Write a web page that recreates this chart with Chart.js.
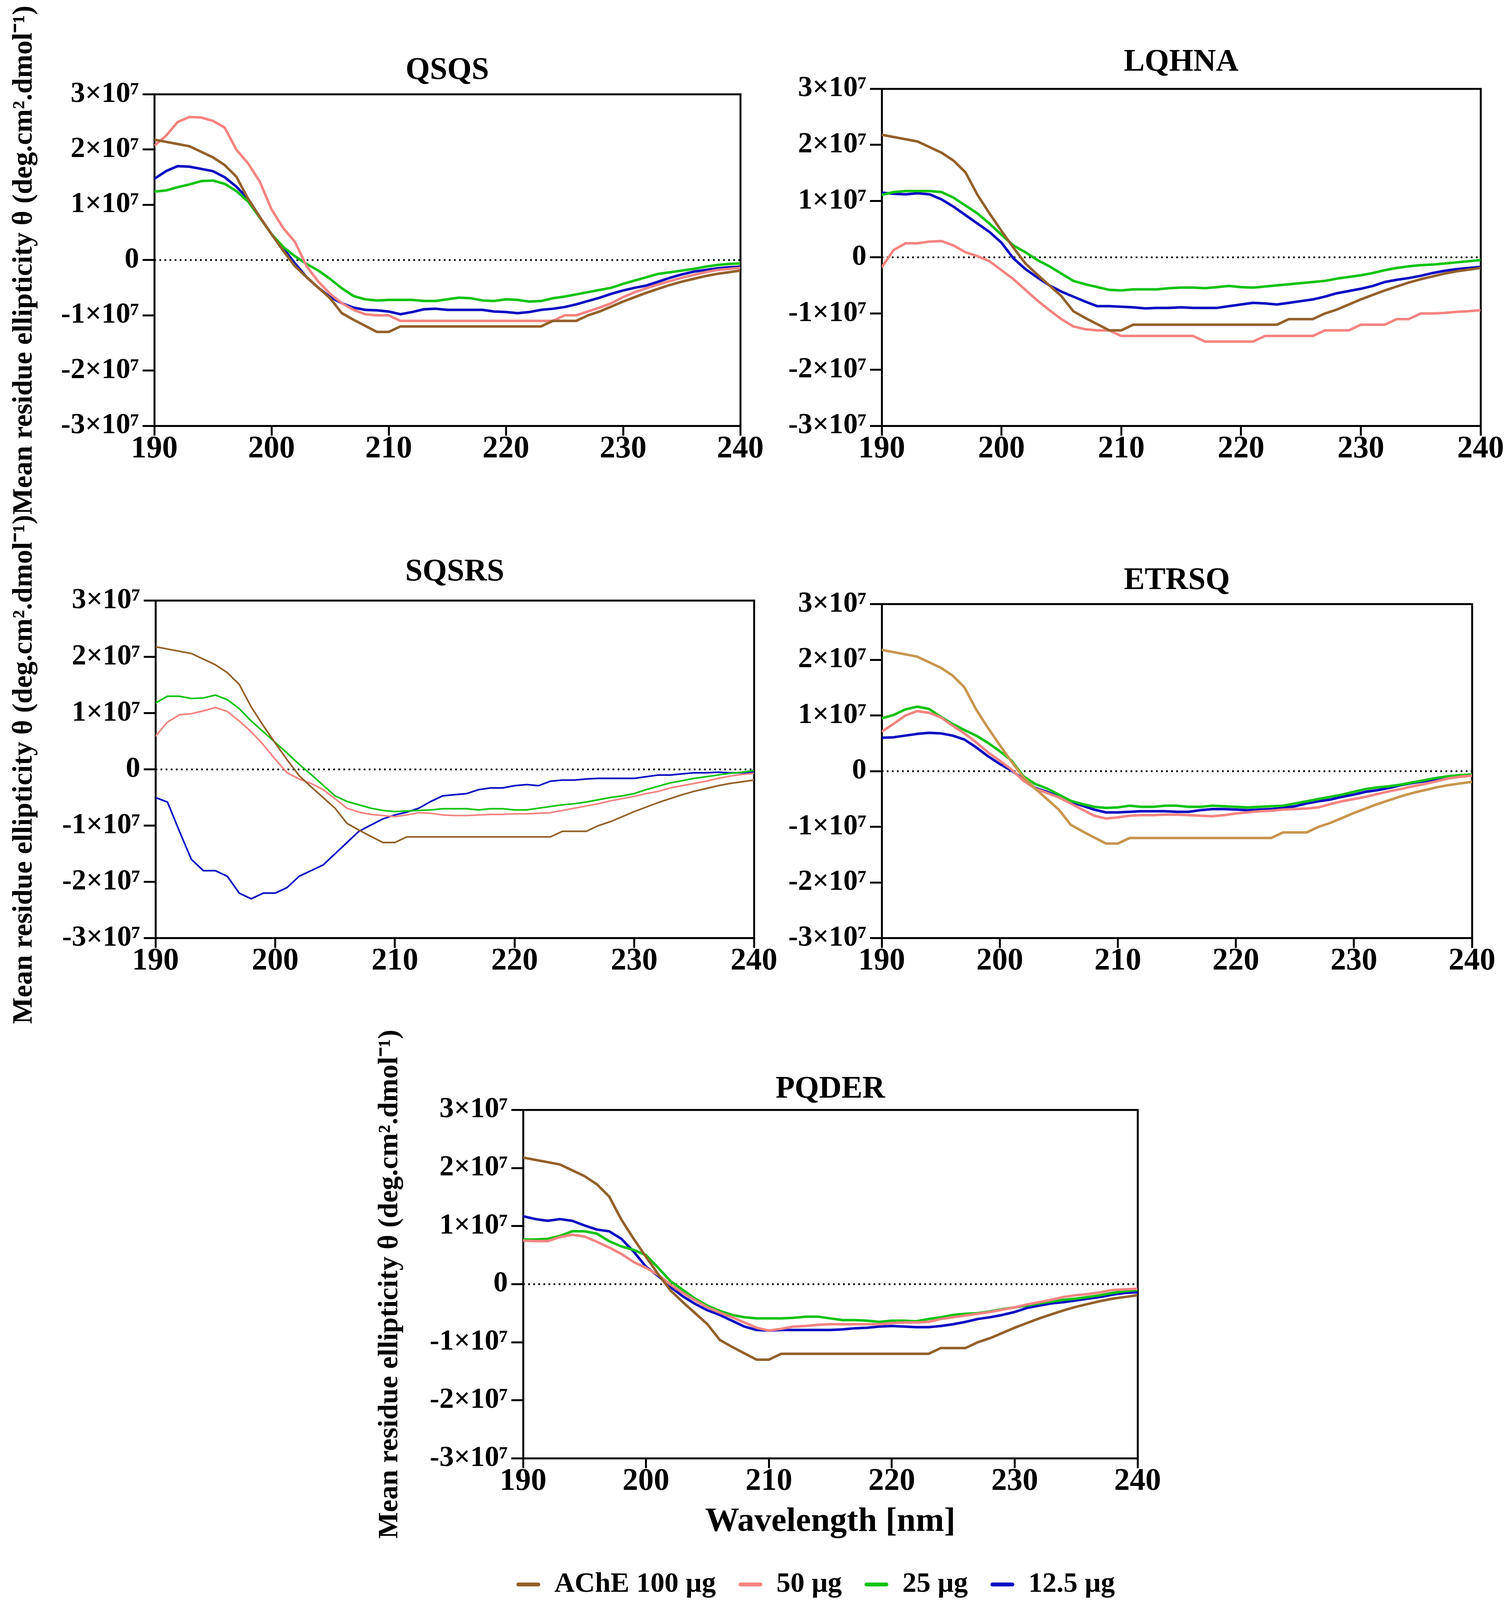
<!DOCTYPE html>
<html>
<head>
<meta charset="utf-8">
<script src="https://cdn.jsdelivr.net/npm/chart.js@4.4.1/dist/chart.umd.min.js"></script>
<style>
html,body{margin:0;padding:0;background:#fff;overflow:hidden;}
#page{position:relative;width:3850px;height:4835px;overflow:hidden;background:#fff;}
#page canvas{position:absolute;}
</style>
</head>
<body>
<div id="page"></div>
<script>
// ---------------- DATA (values in units of 10^7 deg.cm².dmol⁻¹) ----------------
const wavelengths = [190,191,192,193,194,195,196,197,198,199,200,201,202,203,204,205,206,207,208,209,210,211,212,213,214,215,216,217,218,219,220,221,222,223,224,225,226,227,228,229,230,231,232,233,234,235,236,237,238,239,240];
const xTickValues = [190,200,210,220,230,240];
const yTickValues = [-3,-2,-1,0,1,2,3];
const seriesLabels = ['AChE 100 µg','50 µg','25 µg','12.5 µg'];
const panelTitles = ['QSQS','LQHNA','SQSRS','ETRSQ','PQDER'];
const yAxisTitle = 'Mean residue ellipticity θ (deg.cm².dmol⁻¹)';
const xAxisTitle = 'Wavelength [nm]';
const zeroRef = [0, 0];

const ache100 = [2.18,2.14,2.10,2.06,1.96,1.86,1.72,1.51,1.11,0.78, 0.47,0.17,-0.11,-0.31,-0.50,-0.69,-0.96,-1.08,-1.19,-1.30, -1.30,-1.20,-1.20,-1.20,-1.20,-1.20,-1.20,-1.20,-1.20,-1.20, -1.20,-1.20,-1.20,-1.20,-1.10,-1.10,-1.10,-1.00,-0.93,-0.84, -0.75,-0.67,-0.59,-0.52,-0.45,-0.39,-0.34,-0.29,-0.25,-0.22,-0.19];

const qsqs50  = [2.07,2.25,2.50,2.59,2.58,2.52,2.40,2.00,1.75,1.42, 0.92,0.58,0.33,-0.11,-0.39,-0.61,-0.78,-0.90,-0.98,-1.00, -1.00,-1.10,-1.10,-1.10,-1.10,-1.10,-1.10,-1.10,-1.10,-1.10, -1.10,-1.10,-1.10,-1.10,-1.10,-1.00,-1.00,-0.93,-0.86,-0.78, -0.67,-0.58,-0.51,-0.44,-0.38,-0.32,-0.27,-0.22,-0.18,-0.16,-0.14];
const qsqs25  = [1.24,1.26,1.32,1.37,1.43,1.44,1.38,1.25,1.06,0.77, 0.47,0.24,0.07,-0.07,-0.19,-0.34,-0.51,-0.65,-0.71,-0.73, -0.72,-0.72,-0.72,-0.74,-0.74,-0.71,-0.68,-0.69,-0.73,-0.74, -0.71,-0.72,-0.75,-0.74,-0.69,-0.66,-0.62,-0.58,-0.54,-0.50, -0.43,-0.37,-0.31,-0.25,-0.22,-0.19,-0.16,-0.12,-0.09,-0.07,-0.06];
const qsqs125 = [1.47,1.61,1.70,1.69,1.65,1.61,1.50,1.33,1.11,0.78, 0.47,0.22,-0.06,-0.31,-0.50,-0.67,-0.78,-0.86,-0.90,-0.91, -0.93,-0.98,-0.94,-0.89,-0.88,-0.90,-0.90,-0.90,-0.90,-0.93, -0.94,-0.96,-0.94,-0.90,-0.88,-0.85,-0.80,-0.74,-0.68,-0.61, -0.55,-0.50,-0.46,-0.39,-0.32,-0.26,-0.21,-0.18,-0.15,-0.13,-0.12];

const lqhna50  = [-0.18,0.13,0.25,0.25,0.28,0.29,0.21,0.09,0.02,-0.07, -0.23,-0.39,-0.58,-0.77,-0.94,-1.10,-1.23,-1.28,-1.30,-1.30, -1.40,-1.40,-1.40,-1.40,-1.40,-1.40,-1.40,-1.50,-1.50,-1.50, -1.50,-1.50,-1.40,-1.40,-1.40,-1.40,-1.40,-1.30,-1.30,-1.30, -1.20,-1.20,-1.20,-1.10,-1.10,-1.00,-1.00,-0.99,-0.97,-0.96,-0.94];
const lqhna25  = [1.11,1.16,1.18,1.18,1.18,1.16,1.06,0.92,0.78,0.60, 0.40,0.21,0.09,-0.05,-0.16,-0.29,-0.42,-0.48,-0.53,-0.58, -0.59,-0.57,-0.57,-0.57,-0.55,-0.54,-0.54,-0.55,-0.53,-0.51, -0.53,-0.54,-0.52,-0.50,-0.48,-0.46,-0.44,-0.42,-0.38,-0.35, -0.32,-0.28,-0.23,-0.19,-0.16,-0.14,-0.13,-0.11,-0.09,-0.07,-0.05];
const lqhna125 = [1.15,1.13,1.12,1.14,1.12,1.03,0.90,0.75,0.60,0.45, 0.26,-0.02,-0.21,-0.36,-0.50,-0.61,-0.70,-0.79,-0.87,-0.87, -0.88,-0.89,-0.91,-0.90,-0.90,-0.89,-0.90,-0.90,-0.90,-0.87, -0.84,-0.81,-0.82,-0.84,-0.81,-0.78,-0.75,-0.70,-0.64,-0.60, -0.56,-0.51,-0.44,-0.40,-0.37,-0.33,-0.28,-0.24,-0.21,-0.19,-0.17];

const sqsrs50  = [0.59,0.84,0.97,0.99,1.04,1.10,1.03,0.86,0.67,0.44, 0.18,-0.06,-0.17,-0.25,-0.36,-0.52,-0.69,-0.76,-0.80,-0.82, -0.84,-0.81,-0.77,-0.78,-0.81,-0.82,-0.82,-0.81,-0.80,-0.80, -0.79,-0.79,-0.78,-0.77,-0.73,-0.69,-0.65,-0.61,-0.56,-0.52, -0.48,-0.43,-0.39,-0.33,-0.29,-0.25,-0.21,-0.16,-0.12,-0.09,-0.07];
const sqsrs25  = [1.18,1.30,1.30,1.26,1.27,1.32,1.24,1.08,0.86,0.67, 0.48,0.29,0.09,-0.09,-0.28,-0.47,-0.57,-0.63,-0.69,-0.73, -0.75,-0.74,-0.73,-0.72,-0.70,-0.70,-0.70,-0.72,-0.70,-0.70, -0.72,-0.72,-0.69,-0.66,-0.63,-0.61,-0.58,-0.54,-0.50,-0.47, -0.43,-0.36,-0.30,-0.24,-0.20,-0.16,-0.13,-0.10,-0.07,-0.05,-0.02];
const sqsrs125 = [-0.50,-0.58,-1.10,-1.60,-1.80,-1.80,-1.90,-2.20,-2.30,-2.20, -2.20,-2.10,-1.90,-1.80,-1.70,-1.50,-1.30,-1.10,-0.99,-0.88, -0.81,-0.76,-0.69,-0.57,-0.47,-0.45,-0.43,-0.36,-0.33,-0.33, -0.29,-0.27,-0.29,-0.21,-0.19,-0.19,-0.17,-0.16,-0.16,-0.16, -0.16,-0.13,-0.10,-0.10,-0.08,-0.06,-0.06,-0.05,-0.06,-0.06,-0.05];

const etrsq50  = [0.71,0.85,1.00,1.08,1.05,0.97,0.82,0.68,0.52,0.34, 0.19,0.03,-0.17,-0.31,-0.39,-0.47,-0.58,-0.69,-0.80,-0.85, -0.83,-0.80,-0.79,-0.79,-0.78,-0.78,-0.79,-0.80,-0.81,-0.79, -0.76,-0.74,-0.72,-0.71,-0.69,-0.68,-0.67,-0.65,-0.59,-0.54, -0.50,-0.46,-0.41,-0.36,-0.32,-0.27,-0.23,-0.18,-0.13,-0.10,-0.08];
const etrsq25  = [0.95,1.01,1.11,1.16,1.12,0.98,0.85,0.74,0.64,0.51, 0.36,0.19,-0.09,-0.23,-0.31,-0.42,-0.53,-0.59,-0.64,-0.66, -0.65,-0.62,-0.64,-0.64,-0.62,-0.62,-0.64,-0.64,-0.62,-0.63, -0.64,-0.65,-0.64,-0.63,-0.62,-0.58,-0.54,-0.50,-0.46,-0.42, -0.37,-0.32,-0.29,-0.27,-0.24,-0.20,-0.16,-0.12,-0.09,-0.07,-0.06];
const etrsq125 = [0.60,0.61,0.64,0.67,0.69,0.68,0.64,0.57,0.43,0.27, 0.13,0.01,-0.14,-0.30,-0.37,-0.46,-0.55,-0.62,-0.69,-0.74, -0.74,-0.73,-0.72,-0.72,-0.72,-0.73,-0.73,-0.70,-0.68,-0.68, -0.69,-0.70,-0.69,-0.68,-0.66,-0.63,-0.58,-0.54,-0.51,-0.46, -0.42,-0.37,-0.34,-0.30,-0.25,-0.21,-0.18,-0.14,-0.12,-0.09,-0.06];

const pqder50  = [0.75,0.74,0.74,0.81,0.85,0.82,0.73,0.63,0.52,0.38, 0.28,0.16,-0.01,-0.15,-0.28,-0.40,-0.49,-0.57,-0.66,-0.75, -0.80,-0.77,-0.73,-0.72,-0.70,-0.69,-0.69,-0.69,-0.69,-0.69, -0.67,-0.66,-0.66,-0.65,-0.60,-0.57,-0.54,-0.51,-0.48,-0.44, -0.40,-0.35,-0.31,-0.27,-0.22,-0.19,-0.17,-0.14,-0.10,-0.09,-0.08];
const pqder25  = [0.77,0.77,0.78,0.83,0.91,0.91,0.87,0.74,0.65,0.59, 0.50,0.28,0.05,-0.10,-0.25,-0.37,-0.46,-0.53,-0.57,-0.59, -0.59,-0.59,-0.58,-0.56,-0.56,-0.59,-0.62,-0.62,-0.63,-0.65, -0.63,-0.63,-0.64,-0.60,-0.57,-0.53,-0.51,-0.50,-0.47,-0.43, -0.40,-0.37,-0.33,-0.30,-0.27,-0.25,-0.22,-0.19,-0.15,-0.12,-0.10];
const pqder125 = [1.17,1.12,1.09,1.12,1.09,1.01,0.94,0.91,0.78,0.56, 0.30,0.14,-0.05,-0.21,-0.34,-0.45,-0.53,-0.63,-0.73,-0.79, -0.80,-0.79,-0.79,-0.79,-0.79,-0.79,-0.78,-0.76,-0.75,-0.73, -0.72,-0.73,-0.74,-0.74,-0.72,-0.69,-0.65,-0.60,-0.57,-0.53, -0.48,-0.41,-0.37,-0.33,-0.31,-0.28,-0.25,-0.22,-0.18,-0.15,-0.14];

const UNIT = 1e7;

// ---------------- STYLE / LAYOUT ----------------
const FONT = "'Liberation Serif','Times New Roman',Times,serif";
const COLORS = { brown:'#93602A', tan:'#C8964F', pink:'#F38481', green:'#12C212', blue:'#0A0AC2' };
Chart.defaults.font.family = FONT;
Chart.defaults.color = '#000';

const REF_W = 3850, REF_H = 4835;
const vh = (window.innerHeight && window.innerHeight > 100) ? window.innerHeight : REF_H;
const k = Math.min(1, vh / REF_H);          // vertical fit factor for the visible window

const F_TITLE = 80, LH_TITLE = F_TITLE * 1.2;
const F_YTITLE = 72, LH_YTITLE = F_YTITLE * 1.2;
const F_XTITLE = 87, LH_XTITLE = F_XTITLE * 1.2;
const F_XTICK = 80, LH_XTICK = F_XTICK * 1.0;
const F_YTICK = 74;
const F_LEG = 72, LEG_PAD = 58;
const Y_WIDTH = 330;
const X_TICKLEN = Math.round(30 * k);

// reference-frame geometry of each panel (plot rectangle, title centre, canvas span)
const panels = [
  { title:panelTitles[0], series:[ache100,qsqs50,qsqs25,qsqs125], brown:COLORS.brown, lw:6.5,
    plot:[395,285,1895,1287], titleY:214, cLeft:0, cW:2000, cTop:0, cBottom:1600, yLabelX:62 },
  { title:panelTitles[1], series:[ache100,lqhna50,lqhna25,lqhna125], brown:COLORS.brown, lw:6.5,
    plot:[2257,268,3790,1287], titleY:189, cLeft:1900, cW:2010, cTop:0, cBottom:1460 },
  { title:panelTitles[2], series:[ache100,sqsrs50,sqsrs25,sqsrs125], brown:COLORS.brown, lw:4.2,
    plot:[398,1815,1930,2835], titleY:1730, cLeft:0, cW:2040, cTop:1515, cBottom:3140, yLabelX:62 },
  { title:panelTitles[3], series:[ache100,etrsq50,etrsq25,etrsq125], brown:COLORS.tan, lw:6.5,
    plot:[2257,1826,3768,2835], titleY:1756, cLeft:1900, cW:2010, cTop:1600, cBottom:3000 },
  { title:panelTitles[4], series:[ache100,pqder50,pqder25,pqder125], brown:COLORS.brown, lw:6.5,
    plot:[1339,3354,2912,4407], titleY:3293, cLeft:800, cW:2300, cTop:3060, cBottom:REF_H, yLabelX:998,
    xTitleY:4600, legendY:4788 }
];

function toPoints(vals){ return wavelengths.map((x,i)=>({x:x, y:vals[i]*UNIT})); }
function yTickLabel(v){ const n = Math.round(v/UNIT); return n===0 ? '0' : n + '×10⁷'; }

const page = document.getElementById('page');
page.style.height = Math.round(REF_H * k) + 'px';

panels.forEach(p => {
  const [pl, pt, pr, pb] = p.plot;
  const top = Math.round(p.cTop * k);
  const legendH = p.legendY ? (LEG_PAD + F_LEG + 10) : 0;
  let h;
  let xHeight = Math.round(120 * k + 20);
  let legendTop = 0;
  if (p.legendY) {
    legendTop = p.legendY * k - LEG_PAD - F_LEG / 2;
    xHeight = legendTop - pb * k;
    h = Math.ceil(legendTop + legendH - top) + 2;
  } else {
    h = Math.round((p.cBottom - p.cTop) * k);
  }
  const plotTopC = pt * k - top;
  const plotBotC = pb * k - top;
  const titlePadTop = p.titleY * k - top - LH_TITLE / 2;
  const titlePadBottom = plotTopC - LH_TITLE - titlePadTop;
  const padL = pl - p.cLeft - Y_WIDTH;
  const padR = p.cLeft + p.cW - pr;
  const padB = h - plotBotC - xHeight - legendH;
  const yTitlePad = p.yLabelX ? (p.yLabelX - (p.cLeft + padL) - LH_YTITLE / 2) : 0;
  const xTickPad = Math.round(68 * k) - X_TICKLEN - LH_XTICK / 2 + 2;
  const xTitlePadBottom = p.xTitleY ? (pb * k + xHeight) - p.xTitleY * k - LH_XTITLE / 2 : 0;

  const cv = document.createElement('canvas');
  cv.width = p.cW; cv.height = h;
  cv.style.left = p.cLeft + 'px'; cv.style.top = top + 'px';
  cv.style.width = p.cW + 'px'; cv.style.height = h + 'px';
  page.appendChild(cv);

  const colors = [p.brown, COLORS.pink, COLORS.green, COLORS.blue];
  const datasets = p.series.map((s,i)=>({
    label: seriesLabels[i],
    data: toPoints(s),
    borderColor: colors[i],
    backgroundColor: colors[i],
    borderWidth: p.lw,
    pointRadius: 0,
    tension: 0,
    fill: false,
    borderJoinStyle: 'round'
  }));
  datasets.push({
    label: 'zero',
    data: [{x:wavelengths[0], y:zeroRef[0]}, {x:wavelengths[wavelengths.length-1], y:zeroRef[1]}],
    borderColor: '#000',
    backgroundColor: '#000',
    borderWidth: 4.5,
    borderDash: [4.5, 8.5],
    pointRadius: 0,
    fill: false
  });

  const frameBorder = { display:true, color:'#000', width:5 };

  new Chart(cv, {
    type: 'line',
    data: { datasets },
    options: {
      responsive: false,
      animation: false,
      devicePixelRatio: 1,
      events: [],
      layout: { padding: { left: padL, right: padR, top: 0, bottom: padB } },
      plugins: {
        title: { display:true, fullSize:false, text:p.title, color:'#000',
                 font:{family:FONT, size:F_TITLE, weight:'bold', lineHeight:1.2},
                 padding:{top:titlePadTop, bottom:titlePadBottom} },
        tooltip: { enabled:false },
        legend: p.legendY ? {
          display: true,
          position: 'bottom',
          align: 'end',
          labels: {
            boxWidth: 61, boxHeight: 10, padding: LEG_PAD, color:'#000',
            useBorderRadius: true, borderRadius: 5,
            font: {family:FONT, size:F_LEG, weight:'bold'},
            generateLabels: (chart) => Chart.defaults.plugins.legend.labels.generateLabels(chart)
              .filter(l => l.datasetIndex < 4)
              .map(l => Object.assign(l, {lineWidth:0}))
          }
        } : { display:false }
      },
      scales: {
        x: {
          type:'linear', position:'bottom', min:xTickValues[0], max:xTickValues[xTickValues.length-1],
          afterFit: (s) => { s.height = xHeight; },
          ticks: { stepSize:10, autoSkip:false, maxRotation:0, padding:xTickPad, color:'#000',
                   font:{family:FONT, size:F_XTICK, weight:'bold', lineHeight:1.0} },
          grid: { display:true, drawOnChartArea:false, drawTicks:true, tickLength:X_TICKLEN, color:'#000', lineWidth:5 },
          border: frameBorder,
          title: p.xTitleY ? { display:true, text:xAxisTitle, color:'#000',
                   font:{family:FONT, size:F_XTITLE, weight:'bold', lineHeight:1.2},
                   padding:{top:0, bottom:xTitlePadBottom} } : {display:false}
        },
        y: {
          type:'linear', position:'left', min:yTickValues[0]*UNIT, max:yTickValues[yTickValues.length-1]*UNIT,
          afterFit: (s) => { s.width = Y_WIDTH; },
          ticks: { stepSize:UNIT, autoSkip:false, padding:9, color:'#000', callback: yTickLabel,
                   font:{family:FONT, size:F_YTICK, weight:'bold', lineHeight:1.2} },
          grid: { display:true, drawOnChartArea:false, drawTicks:true, tickLength:30, color:'#000', lineWidth:5 },
          border: frameBorder,
          title: p.yLabelX ? { display:true, text:yAxisTitle, color:'#000',
                   font:{family:FONT, size:F_YTITLE, weight:'bold', lineHeight:1.2},
                   padding:{top:yTitlePad, bottom:0} } : {display:false}
        },
        xTop: {
          type:'linear', position:'top', min:xTickValues[0], max:xTickValues[xTickValues.length-1],
          ticks:{display:false}, grid:{display:false, drawTicks:false}, border: frameBorder
        },
        yRight: {
          type:'linear', position:'right', min:yTickValues[0]*UNIT, max:yTickValues[yTickValues.length-1]*UNIT,
          ticks:{display:false}, grid:{display:false, drawTicks:false}, border: frameBorder
        }
      }
    }
  });
});
</script>
</body>
</html>
